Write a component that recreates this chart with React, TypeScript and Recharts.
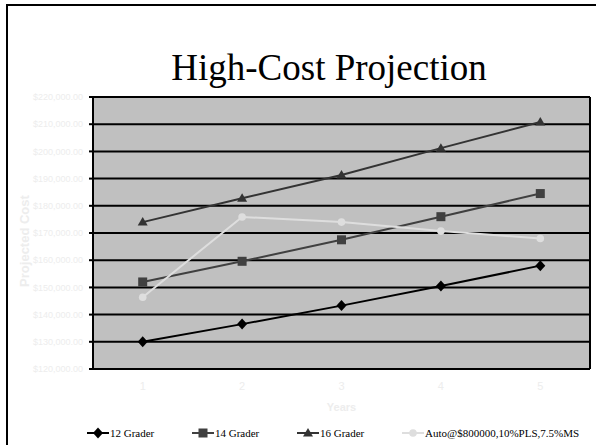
import React from 'react';
import { LineChart, Line, XAxis, YAxis, CartesianGrid, Legend } from 'recharts';

// values
const years = [1, 2, 3, 4, 5];
const grader12 = [130000, 136500, 143300, 150500, 158000];
const grader14 = [152000, 159600, 167500, 176000, 184500];
const grader16 = [174000, 182800, 191300, 201200, 210800];
const autoPls = [146400, 175900, 174000, 170700, 168000];
const yTicks = [120000, 130000, 140000, 150000, 160000, 170000, 180000, 190000, 200000, 210000, 220000];
const xBounds = [0.5, 1.5, 2.5, 3.5, 4.5, 5.5];

const data = years.map((year, i) => ({
  year,
  g12: grader12[i],
  g14: grader14[i],
  g16: grader16[i],
  auto: autoPls[i],
}));

const series = [
  { key: 'g12', name: '12 Grader', color: '#000000', shape: 'diamond' },
  { key: 'g14', name: '14 Grader', color: '#404040', shape: 'square' },
  { key: 'g16', name: '16 Grader', color: '#333333', shape: 'triangle' },
  { key: 'auto', name: 'Auto@$800000,10%PLS,7.5%MS', color: '#dedede', shape: 'circle' },
];

const faint = '#ededed';
const legendLeft = [87, 192, 297, 402];

const Marker = ({ shape, cx, cy, color }: any) => {
  if (cx == null || cy == null) return null;
  switch (shape) {
    case 'diamond':
      return <polygon points={`${cx},${cy - 5.5} ${cx + 5},${cy} ${cx},${cy + 5.5} ${cx - 5},${cy}`} fill={color} />;
    case 'square':
      return <rect x={cx - 4.5} y={cy - 4.5} width={9} height={9} fill={color} />;
    case 'triangle':
      return <polygon points={`${cx},${cy - 5} ${cx + 5},${cy + 3.5} ${cx - 5},${cy + 3.5}`} fill={color} />;
    default:
      return <circle cx={cx} cy={cy} r={3.8} fill={color} />;
  }
};

const money = (v: number) => '$' + v.toLocaleString('en-US') + '.00';

const renderLegend = () => (
  <div style={{ position: 'relative', height: 16 }}>
    {series.map((s, i) => (
      <div
        key={s.key}
        style={{
          position: 'absolute',
          left: legendLeft[i],
          top: 0,
          display: 'flex',
          alignItems: 'center',
          fontFamily: '"Liberation Serif", "Times New Roman", serif',
          fontSize: 11,
          color: '#000',
          whiteSpace: 'nowrap',
        }}
      >
        <svg width={22} height={14}>
          <line x1={0} y1={7} x2={22} y2={7} stroke={s.color} strokeWidth={2} />
          <Marker shape={s.shape} cx={11} cy={7} color={s.color} />
        </svg>
        <span style={{ marginLeft: 1 }}>{s.name}</span>
      </div>
    ))}
  </div>
);

const YLabel = ({ viewBox }: any) => {
  const cy = viewBox.y + viewBox.height / 2 + 8;
  return (
    <text
      x={29}
      y={cy}
      transform={`rotate(-90, 29, ${cy})`}
      textAnchor="middle"
      fill={faint}
      fontFamily='"Liberation Sans", Arial, sans-serif'
      fontWeight="bold"
      fontSize={13}
    >
      Projected Cost
    </text>
  );
};

export default function App() {
  return (
    <div style={{ position: 'absolute', left: 0, top: 0, width: 596, height: 445, background: '#fff', overflow: 'hidden' }}>
      <LineChart width={596} height={445} data={data} margin={{ top: 97, right: 0, bottom: 34, left: 0 }}>
        <CartesianGrid
          xAxisId="bounds"
          vertical={false}
          stroke="#000"
          strokeWidth={2}
          fill="#c0c0c0"
          fillOpacity={1}
        />
        <XAxis
          xAxisId="bounds"
          type="number"
          dataKey="year"
          domain={[0.5, 5.5]}
          ticks={xBounds}
          interval={0}
          tick={false}
          tickSize={4}
          tickLine={{ stroke: '#000', strokeWidth: 2 }}
          axisLine={{ stroke: '#000', strokeWidth: 2 }}
          height={0}
          allowDataOverflow
        />
        <XAxis
          xAxisId="labels"
          type="number"
          dataKey="year"
          domain={[0.5, 5.5]}
          ticks={years}
          interval={0}
          tickLine={false}
          axisLine={false}
          tickSize={0}
          tickMargin={13}
          height={42}
          tick={{ fill: faint, fontSize: 11, fontFamily: '"Liberation Sans", Arial, sans-serif' }}
          label={{
            value: 'Years',
            position: 'insideBottom',
            offset: 0,
            fill: faint,
            fontSize: 11,
            fontWeight: 'bold',
            fontFamily: '"Liberation Sans", Arial, sans-serif',
          }}
          allowDataOverflow
        />
        <YAxis
          width={93}
          domain={[120000, 220000]}
          ticks={yTicks}
          interval={0}
          tickFormatter={money}
          tickSize={4}
          tickMargin={6}
          tickLine={{ stroke: '#000', strokeWidth: 2 }}
          axisLine={{ stroke: '#000', strokeWidth: 2 }}
          tick={{ fill: faint, fontSize: 9, fontFamily: '"Liberation Sans", Arial, sans-serif' }}
          label={<YLabel />}
          allowDataOverflow
        />
        <YAxis
          yAxisId="right"
          orientation="right"
          width={6}
          domain={[120000, 220000]}
          tick={false}
          tickLine={false}
          axisLine={{ stroke: '#000', strokeWidth: 2 }}
        />
        <Legend verticalAlign="middle" align="center" content={renderLegend} wrapperStyle={{ top: 426, left: 0, width: 596, margin: 0 }} />
        {series.map((s) => (
          <Line
            key={s.key}
            xAxisId="bounds"
            dataKey={s.key}
            name={s.name}
            type="linear"
            stroke={s.color}
            strokeWidth={2}
            dot={(p: any) => <Marker key={`${s.key}-${p.index}`} shape={s.shape} cx={p.cx} cy={p.cy} color={s.color} />}
            activeDot={false}
            isAnimationActive={false}
          />
        ))}
      </LineChart>
      <svg width={596} height={445} style={{ position: 'absolute', left: 0, top: 0, pointerEvents: 'none' }}>
        <rect x={7} y={5} width={600} height={460} fill="none" stroke="#000" strokeWidth={2} />
        <text
          x={329}
          y={80}
          textAnchor="middle"
          fontFamily='"Liberation Serif", "Times New Roman", serif'
          fontSize={37}
          fill="#000"
        >
          High-Cost Projection
        </text>
      </svg>
    </div>
  );
}
